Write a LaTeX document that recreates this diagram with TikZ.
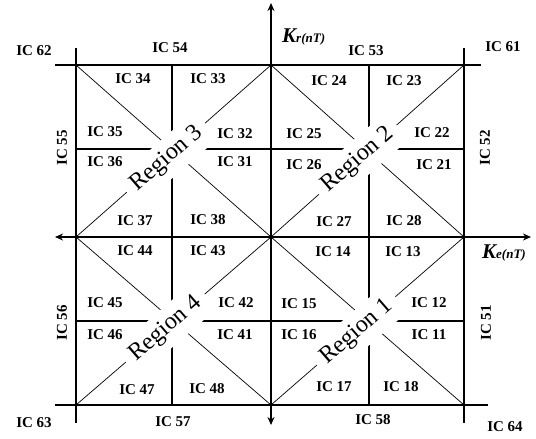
\documentclass[tikz,border=0pt]{standalone}
\usepackage{fontspec}
\setmainfont{Liberation Serif}
\usetikzlibrary{arrows.meta}
\begin{document}
\begin{tikzpicture}[x=1pt,y=-1pt,
  ic/.style={font=\fontsize{15}{15}\selectfont\bfseries, inner sep=0pt},
  icv/.style={ic, rotate=90},
  frameline/.style={line width=1.8pt},
  axisline/.style={line width=2.4pt, {Stealth[length=8pt,width=7pt]}-{Stealth[length=8pt,width=7pt]}},
  midline/.style={line width=1.3pt},
  diagline/.style={line width=0.7pt},
  regtext/.style={inner sep=0pt, rotate=41, font=\fontsize{24}{24}\selectfont},
  klabel/.style={anchor=base west, inner sep=0pt, font=\fontsize{21}{21}\selectfont\bfseries\itshape},
]
\useasboundingbox (0,0) rectangle (536,439);
\newcommand{\gapbox}[2]{\fill[white, rotate around={41:(#1,#2)}] (#1-52,#2-18) rectangle (#1+52,#2+18);}
% reference points
\coordinate (O) at (271,237);
\coordinate (TL) at (76,65);  \coordinate (TR) at (464,65);
\coordinate (BL) at (76,405); \coordinate (BR) at (464,405);
\coordinate (T) at (271,65);  \coordinate (B) at (271,405);
\coordinate (L) at (76,237);  \coordinate (R) at (464,237);
% diagonals
\draw[diagline] (TL) -- (O) (L) -- (T);
\draw[diagline] (T) -- (R) (O) -- (TR);
\draw[diagline] (L) -- (B) (BL) -- (O);
\draw[diagline] (O) -- (BR) (B) -- (R);
% mid lines
\coordinate (m1) at (76,149);  \coordinate (m2) at (464,149);
\coordinate (m3) at (76,321);  \coordinate (m4) at (464,321);
\coordinate (m5) at (172,65);  \coordinate (m6) at (172,405);
\coordinate (m7) at (369,65);  \coordinate (m8) at (369,405);
\draw[midline] (m1) -- (m2) (m3) -- (m4) (m5) -- (m6) (m7) -- (m8);
% gaps round the region labels
\gapbox{167}{159}
\gapbox{358}{160}
\gapbox{166}{329}
\gapbox{357}{332}
% region labels
\node[regtext] (r3) at (167,159) {Region 3};
\node[regtext] (r2) at (358,160) {Region 2};
\node[regtext] (r4) at (166,329) {Region 4};
\node[regtext] (r1) at (357,332) {Region 1};
% frame
\coordinate (f1) at (55,65);  \coordinate (f2) at (481,65);
\coordinate (f3) at (55,405); \coordinate (f4) at (488,405);
\coordinate (f5) at (76,48);  \coordinate (f6) at (76,423);
\coordinate (f7) at (464,48); \coordinate (f8) at (464,423);
\draw[frameline] (f1) -- (f2) (f3) -- (f4) (f5) -- (f6) (f7) -- (f8);
% axes
\coordinate (ax1) at (55,237);  \coordinate (ax2) at (531,237);
\coordinate (ay1) at (271,425); \coordinate (ay2) at (271,3);
\draw[axisline] (ax1) -- (ax2);
\draw[axisline] (ay1) -- (ay2);
\node[klabel] (kr) at (282,42) {K\fontsize{13}{13}\selectfont r(nT)};
\node[klabel] (ke) at (482,258) {K\fontsize{13}{13}\selectfont e(nT)};
% quadrant 3
\node[ic] (i34) at (133,79) {IC 34};
\node[ic] (i33) at (208,79) {IC 33};
\node[ic] (i35) at (105,132) {IC 35};
\node[ic] (i32) at (235,134) {IC 32};
\node[ic] (i36) at (105,162) {IC 36};
\node[ic] (i31) at (235,162) {IC 31};
\node[ic] (i37) at (135,221) {IC 37};
\node[ic] (i38) at (208,220) {IC 38};
% quadrant 2
\node[ic] (i24) at (329,81) {IC 24};
\node[ic] (i23) at (404,81) {IC 23};
\node[ic] (i25) at (304,134) {IC 25};
\node[ic] (i22) at (432,133) {IC 22};
\node[ic] (i26) at (304,165) {IC 26};
\node[ic] (i21) at (434,165) {IC 21};
\node[ic] (i27) at (334,222) {IC 27};
\node[ic] (i28) at (404,221) {IC 28};
% quadrant 4
\node[ic] (i44) at (135,251) {IC 44};
\node[ic] (i43) at (208,251) {IC 43};
\node[ic] (i45) at (105,303) {IC 45};
\node[ic] (i42) at (236,303) {IC 42};
\node[ic] (i46) at (105,335) {IC 46};
\node[ic] (i41) at (235,335) {IC 41};
\node[ic] (i47) at (137,390) {IC 47};
\node[ic] (i48) at (207,389) {IC 48};
% quadrant 1
\node[ic] (i14) at (333,252) {IC 14};
\node[ic] (i13) at (403,252) {IC 13};
\node[ic] (i15) at (299,304) {IC 15};
\node[ic] (i12) at (429,303) {IC 12};
\node[ic] (i16) at (299,335) {IC 16};
\node[ic] (i11) at (429,335) {IC 11};
\node[ic] (i17) at (334,387) {IC 17};
\node[ic] (i18) at (401,387) {IC 18};
% outer
\node[ic] (i62) at (34,51) {IC 62};
\node[ic] (i54) at (170,48) {IC 54};
\node[ic] (i53) at (366,51) {IC 53};
\node[ic] (i61) at (503,47) {IC 61};
\node[icv] (i55) at (62,148) {IC 55};
\node[icv] (i52) at (485,148) {IC 52};
\node[icv] (i56) at (62,323) {IC 56};
\node[icv] (i51) at (486,323) {IC 51};
\node[ic] (i63) at (34,423) {IC 63};
\node[ic] (i57) at (173,422) {IC 57};
\node[ic] (i58) at (373,420) {IC 58};
\node[ic] (i64) at (505,427) {IC 64};
\end{tikzpicture}
\end{document}
